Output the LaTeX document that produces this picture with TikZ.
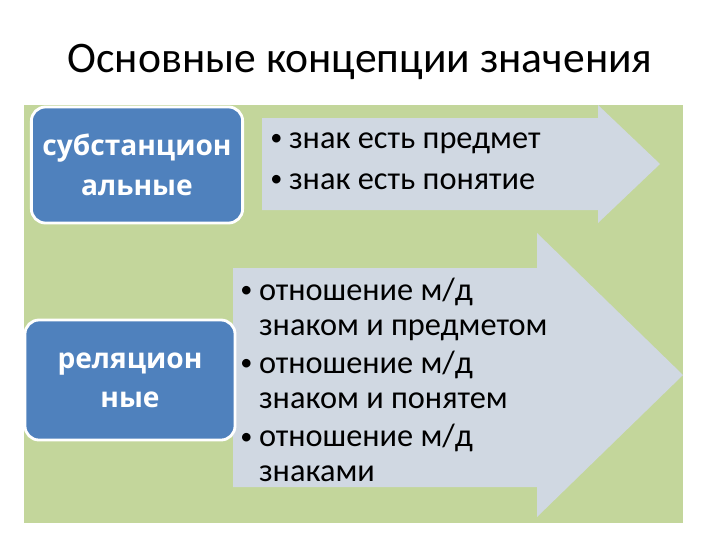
\documentclass[tikz,border=0pt]{standalone}
\usepackage{fontspec}
\setmainfont{Carlito}
\newfontfamily\boxfont{Open Sans}
\definecolor{bggreen}{RGB}{195,214,155}
\definecolor{conceptblue}{RGB}{79,129,189}
\definecolor{arrowgray}{RGB}{208,216,226}
\newcommand{\itm}{\makebox[0.58em][l]{\raisebox{0.08em}{\scalebox{0.75}{\textbullet}}}}
\newcommand{\cnt}{\hspace*{0.58em}}

\begin{document}
\begin{tikzpicture}[x=0.025cm,y=-0.025cm,
    concept/.style = {rounded corners=10pt,fill=conceptblue,draw=white,line width=2pt,
        text=white,font=\boxfont\bfseries\fontsize{20}{28}\selectfont,align=center,inner sep=0pt},
    items/.style = {anchor=west,align=left,inner sep=0pt,font=\fontsize{23}{25}\selectfont}]

        \useasboundingbox (0,0) rectangle (720,540);

        % Title
        \node[font=\fontsize{31}{36}\selectfont] (title) at (360,62) {Основные концепции значения};

        % Green field
        \fill[bggreen] (24,105) rectangle (683,523);

        % Arrows
        \fill[arrowgray] (262,118) -- (598,118) -- (598,105) -- (660,164) -- (598,223) -- (598,210) -- (262,210) -- cycle;
        \fill[arrowgray] (233,268) -- (537,268) -- (537,233) -- (683,375) -- (537,517) -- (537,487) -- (233,487) -- cycle;

        % Concepts
        \node[concept,minimum width=5.28cm,minimum height=2.9cm] (subst) at (137,165) {субстанцион\\альные};
        \node[concept,minimum width=5.25cm,minimum height=3cm] (relat) at (130,380) {реляцион\\ные};

        % Items
        \node[items] (substitems) at (270,161) {\itm знак есть предмет\\[4pt]\itm знак есть понятие};
        \node[items] (relatitems) at (240,380) {\itm отношение м/д\\\cnt знаком и предметом\\[2pt]
            \itm отношение м/д\\\cnt знаком и понятем\\[2pt]
            \itm отношение м/д\\\cnt знаками};

    \end{tikzpicture}
\end{document}
